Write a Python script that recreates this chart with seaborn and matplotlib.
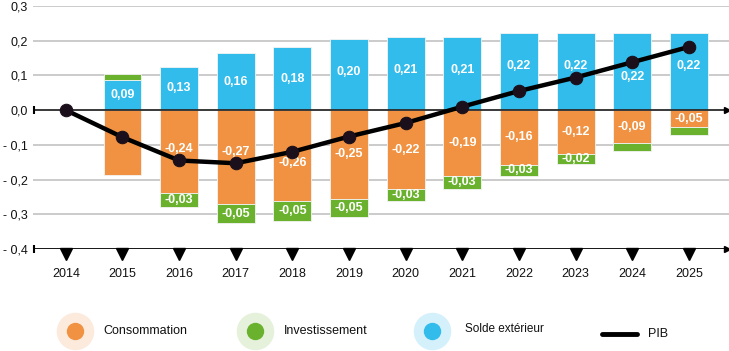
import numpy as np
import pandas as pd
import matplotlib
matplotlib.use("Agg")
import matplotlib.pyplot as plt
from matplotlib.lines import Line2D
import seaborn as sns

years = [2014, 2015, 2016, 2017, 2018, 2019, 2020, 2021, 2022, 2023, 2024, 2025]
consommation = [0.0, -0.188, -0.24, -0.27, -0.262, -0.255, -0.227, -0.19, -0.157, -0.127, -0.096, -0.049]
investissement = [0.0, 0.017, -0.038, -0.056, -0.056, -0.054, -0.036, -0.036, -0.033, -0.027, -0.022, -0.022]
solde_exterieur = [0.0, 0.088, 0.125, 0.165, 0.181, 0.204, 0.212, 0.212, 0.222, 0.222, 0.222, 0.222]
pib = [0.0, -0.078, -0.145, -0.153, -0.12, -0.076, -0.037, 0.01, 0.055, 0.094, 0.138, 0.182]

lab_conso = ["", "", "-0,24", "-0,27", "-0,26", "-0,25", "-0,22", "-0,19", "-0,16", "-0,12", "-0,09", "-0,05"]
lab_invest = ["", "", "-0,03", "-0,05", "-0,05", "-0,05", "-0,03", "-0,03", "-0,03", "-0,02", "", ""]
lab_solde = ["", "0,09", "0,13", "0,16", "0,18", "0,20", "0,21", "0,21", "0,22", "0,22", "0,22", "0,22"]

ytick_vals = [0.3, 0.2, 0.1, 0.0, -0.1, -0.2, -0.3, -0.4]
ytick_labels = ["0,3", "0,2", "0,1", "0,0", "- 0,1", "- 0,2", "- 0,3", "- 0,4"]

c_orange = "#F09242"
c_green = "#6AB22E"
c_blue = "#31BCEC"
h_orange = "#FCEADC"
h_green = "#E5F1DA"
h_blue = "#D3F0FB"

sns.set_theme(style="white")
plt.rcParams["font.family"] = ["Liberation Sans", "DejaVu Sans"]

fig = plt.figure(figsize=(7.29, 3.51), dpi=100)
ax = fig.add_axes([33 / 729, 102 / 351, 1 - 33 / 729, 243 / 351])

yrs = np.array(years)
cons = np.array(consommation)
inv = np.array(investissement)
sol = np.array(solde_exterieur)
p = np.array(pib)
inv_bottom = np.where(inv < 0, cons, sol)

df = pd.DataFrame({"year": yrs, "cons": cons, "inv": inv, "sol": sol, "pib": p, "invb": inv_bottom})

# gridlines
for v in ytick_vals:
    if v not in (0.0, -0.4):
        ax.axhline(v, color="#CBCBCB", lw=1.4, zorder=0)

bar_kw = dict(native_scale=True, width=0.67, saturation=1, edgecolor="#f4f4f4",
              linewidth=0.6, ax=ax, zorder=2)
sns.barplot(data=df, x="year", y="sol", color=c_blue, **bar_kw)
sns.barplot(data=df, x="year", y="cons", color=c_orange, **bar_kw)
sns.barplot(data=df, x="year", y="inv", color=c_green, bottom=df["invb"].values, **bar_kw)

ax.axhline(0, color="#2a2a2a", lw=1.3, zorder=3)
ax.axhline(-0.4, color="black", lw=2.0, zorder=3)

sns.lineplot(data=df, x="year", y="pib", color="black", lw=3.2, marker="o", markersize=9,
             markerfacecolor="#1a0f1a", markeredgecolor="#1a0f1a", ax=ax, zorder=5)

# bar labels
txt_kw = dict(color="white", fontsize=9, fontweight="bold", ha="center", va="center", zorder=4)
for i, y in enumerate(yrs):
    if lab_solde[i]:
        ly = max(sol[i] / 2, sol[i] - 0.095)
        if abs(p[i] - ly) < 0.03:
            ly = p[i] - 0.042 if ly < p[i] else p[i] + 0.042
        ax.text(y, ly, lab_solde[i], **txt_kw)
    if lab_conso[i]:
        ly = cons[i] / 2
        if abs(p[i] - ly) < 0.03:
            ly = p[i] + 0.033 if ly > p[i] else p[i] - 0.033
        ax.text(y, ly, lab_conso[i], **txt_kw)
    if lab_invest[i]:
        ax.text(y, inv_bottom[i] + inv[i] / 2, lab_invest[i], **txt_kw)

# triangles under the axis
ax.plot(yrs, np.full(len(yrs), -0.414), ls="none", marker="v", markersize=8, color="black",
        clip_on=False, zorder=6)

xl = (2014 - 0.58, 2025 + 0.71)
ax.set_xlim(*xl)
ax.set_ylim(-0.4, 0.3)
ax.plot([xl[0] + 0.02, xl[0] + 0.02], [0, -0.4], ls="none", marker="|", markersize=6,
        mew=1.5, color="black", clip_on=False, zorder=6)
ax.plot([xl[1] - 0.03, xl[1] - 0.03], [0, -0.4], ls="none", marker=">", markersize=4,
        color="black", clip_on=False, zorder=6)

ax.set_yticks(ytick_vals)
ax.set_yticklabels(ytick_labels, fontsize=9, color="#111111")
ax.set_xticks(yrs)
ax.set_xticklabels([str(y) for y in years], fontsize=9, color="#111111")
ax.tick_params(axis="x", length=0, pad=14)
ax.tick_params(axis="y", length=0, pad=4)
ax.set_xlabel("")
ax.set_ylabel("")
for s in ax.spines.values():
    s.set_visible(False)
ax.grid(False)

# legend (figure-level)
ly = 20 / 351
entries = [(75, c_orange, h_orange, "Consommation", 103),
           (255, c_green, h_green, "Investissement", 284),
           (432, c_blue, h_blue, "Solde extérieur", 465)]
for xm, c, h, name, xt in entries:
    fig.add_artist(Line2D([xm / 729], [ly], marker="o", markersize=26, color=h,
                          ls="none", transform=fig.transFigure))
    fig.add_artist(Line2D([xm / 729], [ly], marker="o", markersize=11.5, color=c,
                          ls="none", transform=fig.transFigure))
    fig.text(xt / 729, ly + (1.5 / 351 if name.startswith("Solde") else 0), name,
             fontsize=9 if not name.startswith("Solde") else 8.5,
             va="center", ha="left", color="#111111")
fig.add_artist(Line2D([602 / 729, 637 / 729], [17 / 351, 17 / 351], lw=3.5, color="black",
                      transform=fig.transFigure))
fig.text(648 / 729, 17 / 351, "PIB", fontsize=9, va="center", ha="left", color="#111111")

fig.savefig("out.png", dpi=100)
